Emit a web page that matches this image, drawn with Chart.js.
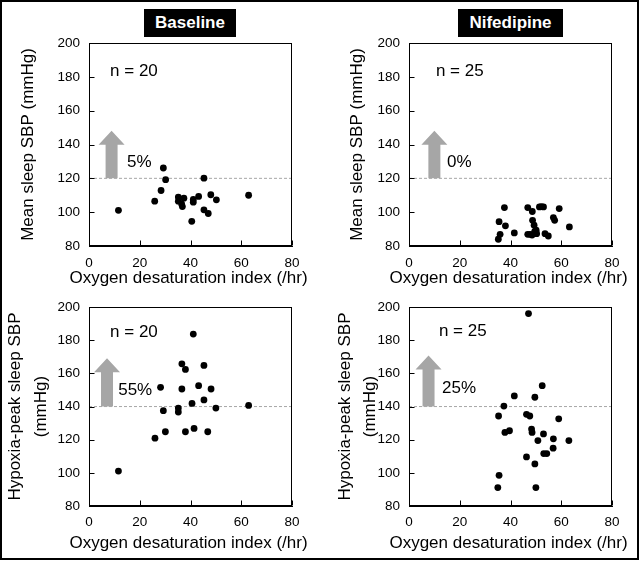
<!DOCTYPE html>
<html>
<head>
<meta charset="utf-8">
<script src="https://cdn.jsdelivr.net/npm/chart.js@4"></script>
<style>
  body { margin: 0; width: 639px; height: 561px; position: relative; overflow: hidden; background: #fff; font-family: "Liberation Sans", Arial, sans-serif; }
  canvas { position: absolute; }
  .frame { position: absolute; left: 0; top: 0; width: 635px; height: 556px; border: 2px solid #000; }
  .tag { position: absolute; top: 9px; height: 28px; line-height: 28px; background: #000; color: #fff; font-weight: bold; font-size: 17px; text-align: center; z-index: 2; }
</style>
</head>
<body>
<div class="frame"></div>
<div class="tag" style="left:144px;width:92px">Baseline</div>
<div class="tag" style="left:458px;width:105px">Nifedipine</div>
<canvas id="c1" width="320" height="290" style="left:0;top:0"></canvas>
<canvas id="c2" width="319" height="290" style="left:320px;top:0"></canvas>
<canvas id="c3" width="320" height="271" style="left:0;top:290px"></canvas>
<canvas id="c4" width="319" height="271" style="left:320px;top:290px"></canvas>
<script>
// ODI (/hr) vs SBP (mmHg)
const baseMeanX = [11.6, 25.9, 28.4, 29.3, 30.2, 35.2, 37.4, 35.2, 36.5, 36.8, 41.1, 41.1, 43.2, 48.0, 50.2, 45.3, 45.3, 47.0, 40.5, 62.9];
const baseMeanY = [101.1, 106.5, 112.8, 126.1, 119.2, 108.9, 108.3, 106.5, 104.9, 103.3, 107.5, 105.9, 109.3, 110.3, 107.3, 120.1, 101.4, 99.2, 94.6, 110.0];

const nifMeanX = [37.6, 35.5, 38.0, 35.9, 35.2, 41.5, 46.8, 48.6, 51.4, 53.0, 59.2, 48.7, 49.3, 50.1, 46.8, 47.7, 50.3, 53.6, 54.9, 56.9, 57.4, 63.2, 48.5, 49.5, 52.2];
const nifMeanY = [102.7, 94.4, 91.9, 86.9, 84.0, 87.7, 102.7, 100.4, 103.1, 103.1, 102.1, 95.2, 92.3, 89.3, 86.9, 86.9, 87.3, 87.3, 85.9, 96.8, 95.2, 91.3, 86.5, 88.5, 103.3];

const baseHypX = [41.1, 36.6, 38.0, 45.3, 28.2, 36.6, 43.2, 48.1, 45.3, 40.6, 29.3, 35.2, 35.2, 50.0, 62.9, 26.0, 30.1, 38.0, 41.4, 46.8, 11.6];
const baseHypY = [183.7, 165.8, 162.4, 164.8, 151.6, 150.6, 152.6, 150.6, 144.0, 141.9, 137.5, 139.1, 136.7, 139.1, 140.7, 120.9, 124.8, 124.8, 126.8, 124.8, 101.1];

const nifHypX = [47.1, 52.5, 41.5, 49.6, 37.4, 35.3, 46.3, 47.6, 59.0, 37.8, 39.6, 48.3, 48.5, 53.0, 50.8, 56.9, 63.0, 56.8, 53.1, 54.3, 46.3, 49.6, 35.5, 35.0, 50.0];
const nifHypY = [196.1, 152.6, 146.4, 145.6, 140.3, 134.3, 135.3, 134.3, 132.6, 124.4, 125.4, 126.4, 124.4, 123.5, 119.5, 120.5, 119.5, 114.9, 111.6, 111.6, 109.6, 105.4, 98.5, 91.1, 91.1];

const xTicks = [0, 20, 40, 60, 80];
const yTicks = [80, 100, 120, 140, 160, 180, 200];
const threshMean = 120;
const threshHyp = 140;
const xTitle = 'Oxygen desaturation index (/hr)';
const yTitleMean = 'Mean sleep SBP (mmHg)';
const yTitleHyp = ['Hypoxia-peak sleep SBP', '(mmHg)'];

const FONT = '"Liberation Sans", Arial, sans-serif';

const annot = {
  id: 'annot',
  beforeDatasetsDraw(chart, args, o) {
    const { ctx, scales: { x, y } } = chart;
    const cx = x.getPixelForValue(o.arrowX);
    const yb = y.getPixelForValue(o.thresh);
    const yt = y.getPixelForValue(o.arrowTip);
    ctx.save();
    ctx.fillStyle = '#a6a6a6';
    ctx.beginPath();
    ctx.moveTo(cx - 6, yb);
    ctx.lineTo(cx - 6, yt + 14);
    ctx.lineTo(cx - 13, yt + 14);
    ctx.lineTo(cx, yt);
    ctx.lineTo(cx + 13, yt + 14);
    ctx.lineTo(cx + 6, yt + 14);
    ctx.lineTo(cx + 6, yb);
    ctx.closePath();
    ctx.fill();
    ctx.restore();
  },
  afterDatasetsDraw(chart, args, o) {
    const { ctx, chartArea: a, scales: { x, y } } = chart;
    ctx.save();
    ctx.fillStyle = '#000';
    ctx.font = '17px ' + FONT;
    ctx.textBaseline = 'middle';
    ctx.textAlign = 'left';
    ctx.fillText(o.n, x.getPixelForValue(o.nPos[0]), y.getPixelForValue(o.nPos[1]));
    ctx.fillText(o.pct, x.getPixelForValue(o.pctPos[0]), y.getPixelForValue(o.pctPos[1]));
    // x title, drawn here so it is not squeezed to the plot width
    ctx.textAlign = 'center';
    ctx.fillText(xTitle, (a.left + a.right) / 2 - 2, a.bottom + o.titleOff);
    // box round the plot and inward tick marks
    ctx.strokeStyle = '#000';
    ctx.lineWidth = 1;
    const L = Math.round(a.left) + 0.5, T = Math.round(a.top) + 0.5;
    const R = Math.round(a.right) - 0.5, B = Math.round(a.bottom) - 0.5;
    ctx.strokeRect(L, T, R - L, B - T);
    ctx.beginPath();
    yTicks.forEach(v => {
      const py = Math.round(y.getPixelForValue(v)) + 0.5;
      ctx.moveTo(L, py); ctx.lineTo(L + 5, py);
    });
    xTicks.forEach(v => {
      const px = Math.round(x.getPixelForValue(v)) + 0.5;
      ctx.moveTo(px, B); ctx.lineTo(px, B - 5);
    });
    ctx.stroke();
    ctx.restore();
  }
};

function makePanel(id, xs, ys, thresh, yTitle, lay) {
  const pts = xs.map((v, i) => ({ x: v, y: ys[i] }));
  return new Chart(document.getElementById(id), {
    type: 'scatter',
    data: {
      datasets: [
        { data: pts, backgroundColor: '#000', borderColor: '#000', borderWidth: 0, pointRadius: 3.4, pointHoverRadius: 3.4, order: 1 },
        { data: [{ x: xTicks[0], y: thresh }, { x: xTicks[xTicks.length - 1], y: thresh }], showLine: true,
          borderColor: '#a6a6a6', borderWidth: 1, borderDash: [3, 2], pointRadius: 0, order: 2 }
      ]
    },
    options: {
      responsive: false,
      devicePixelRatio: 1,
      animation: false,
      events: [],
      layout: { padding: lay.pad },
      plugins: { legend: { display: false }, tooltip: { enabled: false }, annot: lay.annot },
      scales: {
        x: {
          type: 'linear', min: 0, max: 80,
          afterBuildTicks: s => { s.ticks = xTicks.map(v => ({ value: v })); },
          afterFit: s => { s.height = lay.xh; },
          grid: { drawOnChartArea: false, drawTicks: false },
          border: { color: '#000', width: 1 },
          ticks: { color: '#000', font: { family: FONT, size: 13.5 }, padding: lay.xtp, autoSkip: false, maxRotation: 0 },
          title: { display: false }
        },
        y: {
          type: 'linear', min: 80, max: 200,
          afterBuildTicks: s => { s.ticks = yTicks.map(v => ({ value: v })); },
          afterFit: s => { s.width = 89; },
          grid: { drawOnChartArea: false, drawTicks: false },
          border: { color: '#000', width: 1 },
          ticks: { color: '#000', font: { family: FONT, size: 13.5 }, padding: 9, autoSkip: false },
          title: { display: true, text: yTitle, color: '#000', font: { family: FONT, size: 17, lineHeight: lay.ylh }, padding: { top: lay.ytp, bottom: 0 } }
        }
      }
    },
    plugins: [annot]
  });
}

makePanel('c1', baseMeanX, baseMeanY, threshMean, yTitleMean, {
  pad: { top: 43, right: 28, bottom: 5, left: 0 }, xh: 39, xtp: 9, ylh: 1.2, ytp: 18,
  annot: { n: 'n = 20', nPos: [8.3, 183], pct: '5%', pctPos: [15, 129.6], arrowX: 8.9, arrowTip: 148.2, thresh: threshMean, titleOff: 32 }
});
makePanel('c2', nifMeanX, nifMeanY, threshMean, yTitleMean, {
  pad: { top: 43, right: 27, bottom: 5, left: 0 }, xh: 39, xtp: 9, ylh: 1.2, ytp: 27,
  annot: { n: 'n = 25', nPos: [10.6, 183], pct: '0%', pctPos: [15, 129.6], arrowX: 10, arrowTip: 148.2, thresh: threshMean, titleOff: 32 }
});
makePanel('c3', baseHypX, baseHypY, threshHyp, yTitleHyp, {
  pad: { top: 14, right: 28, bottom: 8, left: 0 }, xh: 47, xtp: 8, ylh: 1.53, ytp: 2,
  annot: { n: 'n = 20', nPos: [8.3, 184.8], pct: '55%', pctPos: [11.5, 149.8], arrowX: 7.1, arrowTip: 169.2, thresh: threshHyp, titleOff: 37 }
});
makePanel('c4', nifHypX, nifHypY, threshHyp, yTitleHyp, {
  pad: { top: 14, right: 27, bottom: 8, left: 0 }, xh: 47, xtp: 8, ylh: 1.45, ytp: 13,
  annot: { n: 'n = 25', nPos: [11.8, 185.4], pct: '25%', pctPos: [13, 151], arrowX: 7.7, arrowTip: 170.8, thresh: threshHyp, titleOff: 37 }
});
</script>
</body>
</html>
